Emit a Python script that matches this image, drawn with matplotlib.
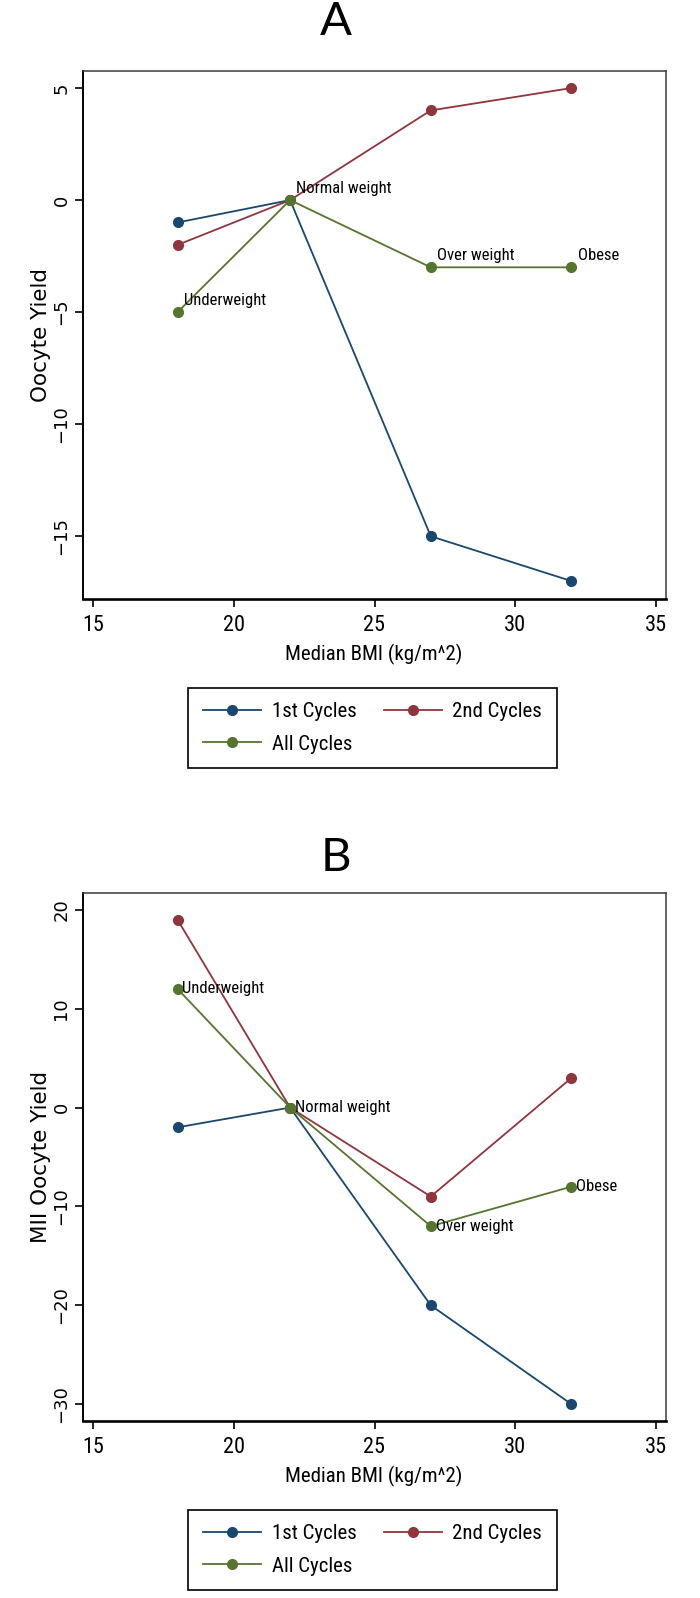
import matplotlib
matplotlib.use('Agg')
import matplotlib.pyplot as plt
from matplotlib import font_manager as fm

# data
bmi = [18, 22, 27, 32]
weight_classes = ['Underweight', 'Normal weight', 'Over weight', 'Obese']
series_names = ['1st Cycles', '2nd Cycles', 'All Cycles']

oocyte_first = [-1, 0, -15, -17]
oocyte_second = [-2, 0, 4, 5]
oocyte_all = [-5, 0, -3, -3]

mii_first = [-2, 0, -20, -30]
mii_second = [19, 0, -9, 3]
mii_all = [12, 0, -12, -8]

colors = ['#1a476f', '#90353b', '#55752f']


def narrow_file():
    # the reference text is tall and narrow, look for a condensed sans face
    prefs = ['Liberation Sans Narrow', 'Arial Narrow', 'Roboto Condensed',
             'Open Sans Condensed', 'Noto Sans', 'DejaVu Sans', 'Open Sans', 'Roboto', 'Lato', 'Inter']
    cands = []
    for f in fm.fontManager.ttflist:
        if f.style != 'normal' or f.weight not in (400, 'normal', 'regular'):
            continue
        if 'Narrow' in f.name or 'Condensed' in f.name or f.stretch in ('condensed', 'semi-condensed'):
            cands.append(f)
    for stretch_ok in (('condensed',), ('semi-condensed', 'normal')):
        for p in prefs:
            for f in cands:
                if f.name == p and (f.stretch in stretch_ok or 'Narrow' in f.name
                                    or 'Condensed' in f.name):
                    return f.fname
    return None


NARROW = narrow_file()


def nfont(size):
    if NARROW:
        return fm.FontProperties(fname=NARROW, size=size)
    return fm.FontProperties(family='Liberation Sans', size=size * 0.82)


W, H = 700, 1598
fig = plt.figure(figsize=(W / 100, H / 100), dpi=100)


def px(x, y):
    return x / W, 1 - y / H


def panel(top, bottom, title, title_y, ylabel, series, yticks, ylim, label_offset):
    ax = fig.add_axes([83 / W, 1 - bottom / H, (666 - 83) / W, (bottom - top) / H])
    lines = []
    for vals, c, name in zip(series, colors, series_names):
        ln, = ax.plot(bmi, vals, color=c, lw=1.3, marker='o', ms=7, label=name)
        lines.append(ln)
    # labels sit next to the "All Cycles" points
    for x, y, lab in zip(bmi, series[2], weight_classes):
        ax.annotate(lab, (x, y), xytext=label_offset, textcoords='offset points',
                    ha='left', va='center', fontproperties=nfont(12))
    ax.set_xlim(14.64, 35.36)
    ax.set_ylim(*ylim)
    ax.set_xticks([15, 20, 25, 30, 35])
    ax.set_yticks(yticks)
    ax.tick_params(axis='x', length=5.5, width=1.2, pad=6)
    ax.tick_params(axis='y', length=5.5, width=1.2, pad=3.5, labelsize=13)
    for t in ax.get_xticklabels():
        t.set_fontproperties(nfont(16))
    for t in ax.get_yticklabels():
        t.set_family('DejaVu Sans')
        t.set_rotation(90)
        t.set_va('center')
    for s in ['top', 'right']:
        ax.spines[s].set_linewidth(1.1)
        ax.spines[s].set_color('#3a3a3a')
    ax.spines['left'].set_linewidth(1.4)
    ax.spines['bottom'].set_linewidth(1.9)

    fig.text(*px(336, title_y), title, fontsize=34, family=['Lato', 'DejaVu Sans'],
             ha='center', va='center')
    fig.text(*px(41, (top + bottom) / 2), ylabel, rotation=90, fontsize=15.5,
             family='DejaVu Sans', ha='center', va='center')
    fig.text(*px(374, bottom + 55), 'Median BMI (kg/m^2)', fontproperties=nfont(15),
             ha='center', va='center')
    # row-major order like the original: 1st, 2nd / All
    order = [0, 2, 1]
    leg = ax.legend([lines[i] for i in order], [series_names[i] for i in order],
                    loc='center', bbox_to_anchor=px(372.5, bottom + 129),
                    bbox_transform=fig.transFigure, ncol=2, fancybox=False,
                    edgecolor='black', framealpha=1, prop=nfont(15),
                    handlelength=2.8, handletextpad=0.5, columnspacing=1.3,
                    borderpad=0.7, labelspacing=0.65)
    leg.get_frame().set_linewidth(1.2)
    return ax


panel(71, 599, 'A', 22, 'Oocyte Yield',
      [oocyte_first, oocyte_second, oocyte_all],
      [-15, -10, -5, 0, 5], (-17.8, 5.76), (4.5, 8.5))
panel(893, 1421, 'B', 858, 'MII Oocyte Yield',
      [mii_first, mii_second, mii_all],
      [-30, -20, -10, 0, 10, 20], (-31.7, 21.7), (3.5, 0))

fig.savefig('out.png', dpi=100)
